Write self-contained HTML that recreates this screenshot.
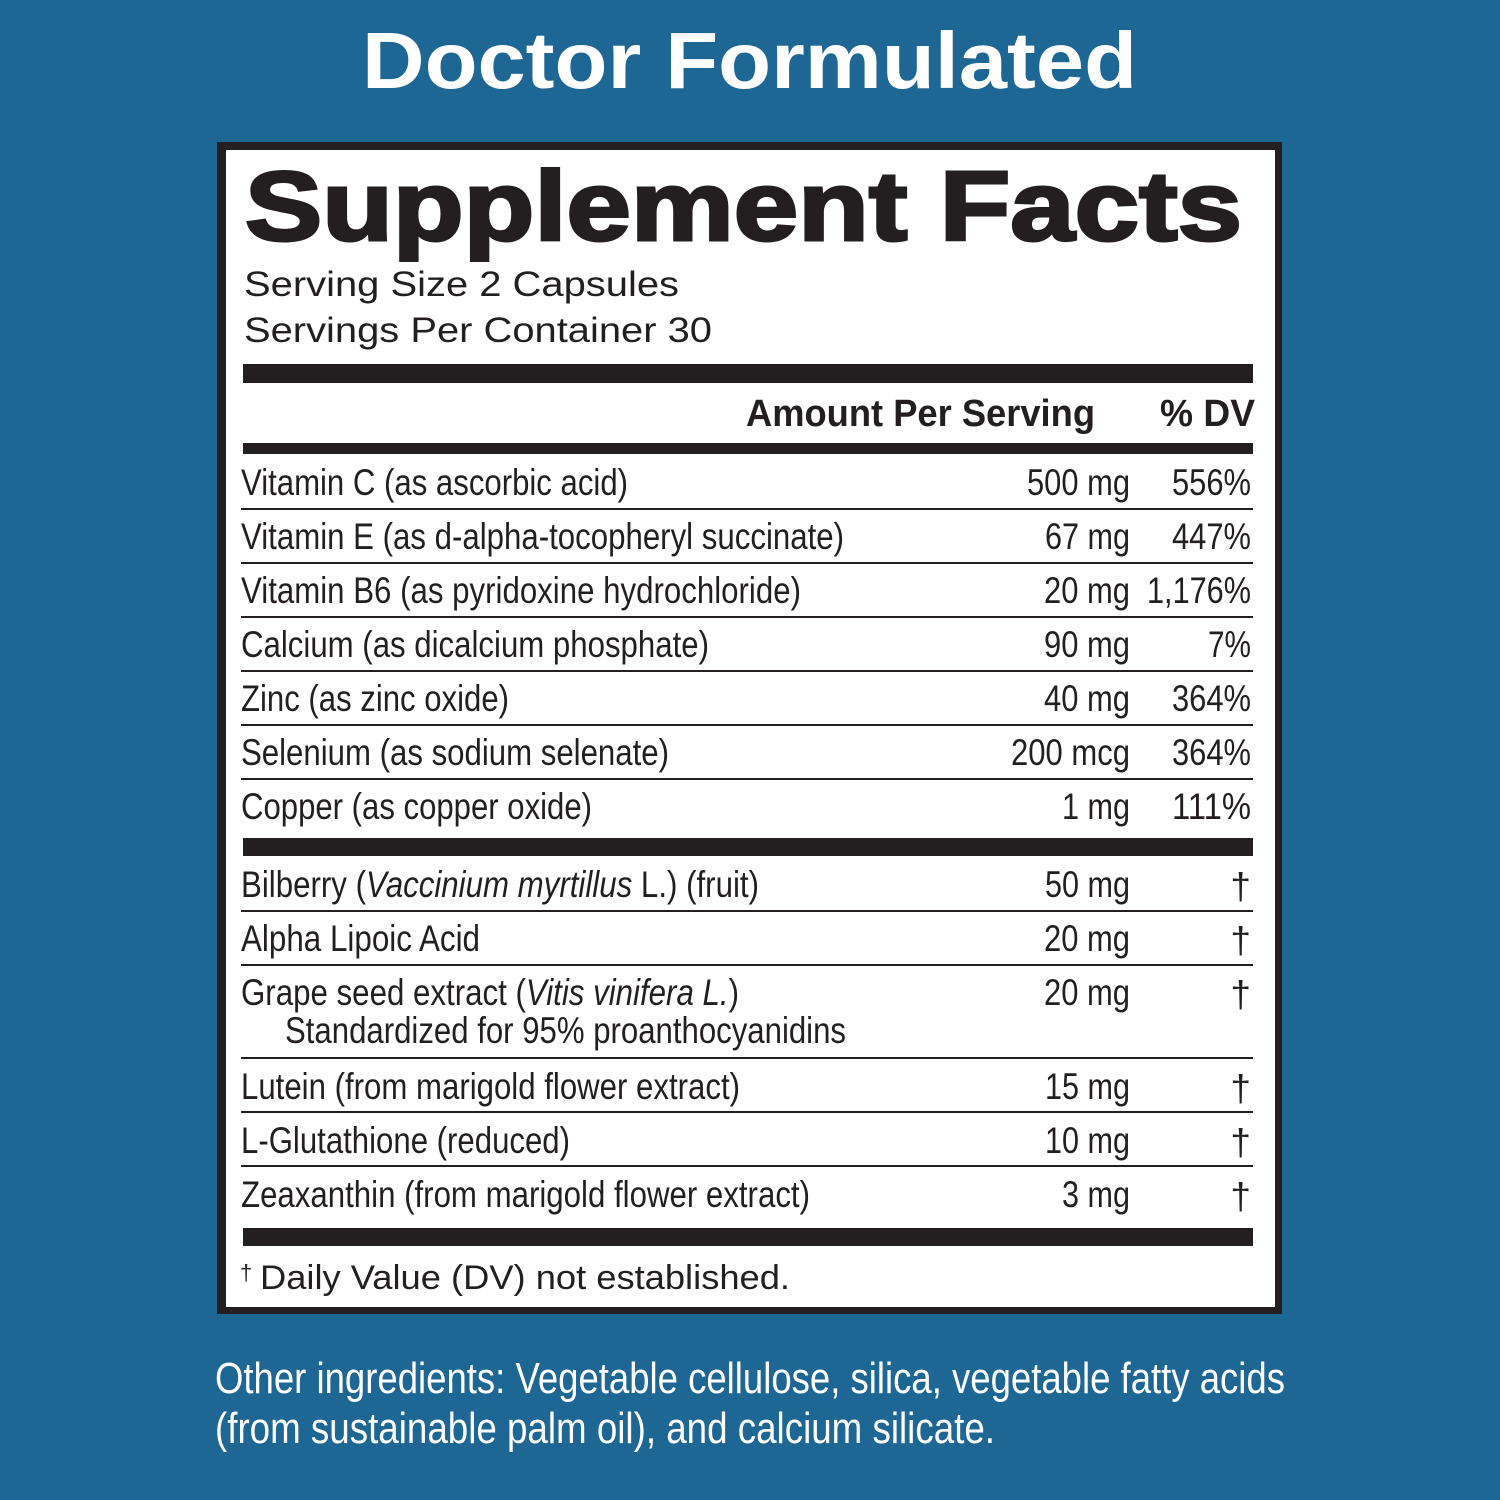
<!DOCTYPE html>
<html><head><meta charset="utf-8"><style>html,body{margin:0;padding:0;background:#1e6794}svg{display:block}</style></head>
<body>
<svg width="1500" height="1500" viewBox="0 0 1500 1500" xmlns="http://www.w3.org/2000/svg" font-family="'Liberation Sans', sans-serif">
<rect width="1500" height="1500" fill="#1e6794"/>
<text x="362" y="88" font-size="80" font-weight="bold" fill="#fff" textLength="775" lengthAdjust="spacingAndGlyphs">Doctor Formulated</text>
<rect x="217" y="142" width="1065" height="1172" fill="#231f20"/>
<rect x="226" y="150" width="1049" height="1157" fill="#fff"/>
<g fill="#231f20">
<text x="245" y="240" font-size="98" font-weight="bold" stroke="#231f20" stroke-width="3" textLength="997" lengthAdjust="spacingAndGlyphs">Supplement Facts</text>
<text x="244" y="296" font-size="35" textLength="435" lengthAdjust="spacingAndGlyphs">Serving Size 2 Capsules</text>
<text x="244" y="342" font-size="35" textLength="468" lengthAdjust="spacingAndGlyphs">Servings Per Container 30</text>
<rect x="243" y="364" width="1010" height="19"/>
<text x="746" y="426" font-size="38" font-weight="bold" textLength="349" lengthAdjust="spacingAndGlyphs">Amount Per Serving</text>
<text x="1160" y="426" font-size="38" font-weight="bold" textLength="95" lengthAdjust="spacingAndGlyphs">% DV</text>
<rect x="243" y="443" width="1010" height="11"/>
<rect x="243" y="838" width="1010" height="18"/>
<rect x="243" y="1228" width="1010" height="18"/>
<g>
<rect x="241" y="508" width="1012" height="2"/><rect x="241" y="562" width="1012" height="2"/><rect x="241" y="616" width="1012" height="2"/><rect x="241" y="670" width="1012" height="2"/><rect x="241" y="724" width="1012" height="2"/><rect x="241" y="778" width="1012" height="2"/>
<rect x="241" y="910" width="1012" height="2"/><rect x="241" y="964" width="1012" height="2"/><rect x="241" y="1057" width="1012" height="2"/><rect x="241" y="1111" width="1012" height="2"/><rect x="241" y="1165" width="1012" height="2"/>
</g>
<g font-size="37" lengthAdjust="spacingAndGlyphs">
<text x="241" y="495" textLength="387" lengthAdjust="spacingAndGlyphs">Vitamin C (as ascorbic acid)</text>
<text x="241" y="549" textLength="603" lengthAdjust="spacingAndGlyphs">Vitamin E (as d-alpha-tocopheryl succinate)</text>
<text x="241" y="603" textLength="560" lengthAdjust="spacingAndGlyphs">Vitamin B6 (as pyridoxine hydrochloride)</text>
<text x="241" y="657" textLength="468" lengthAdjust="spacingAndGlyphs">Calcium (as dicalcium phosphate)</text>
<text x="241" y="711" textLength="268" lengthAdjust="spacingAndGlyphs">Zinc (as zinc oxide)</text>
<text x="241" y="765" textLength="428" lengthAdjust="spacingAndGlyphs">Selenium (as sodium selenate)</text>
<text x="241" y="819" textLength="351" lengthAdjust="spacingAndGlyphs">Copper (as copper oxide)</text>
<text x="241" y="897" textLength="518" lengthAdjust="spacingAndGlyphs">Bilberry (<tspan font-style="italic">Vaccinium myrtillus</tspan> L.) (fruit)</text>
<text x="241" y="951" textLength="239" lengthAdjust="spacingAndGlyphs">Alpha Lipoic Acid</text>
<text x="241" y="1005" textLength="498" lengthAdjust="spacingAndGlyphs">Grape seed extract (<tspan font-style="italic">Vitis vinifera L.</tspan>)</text>
<text x="285" y="1043" textLength="561" lengthAdjust="spacingAndGlyphs">Standardized for 95% proanthocyanidins</text>
<text x="241" y="1099" textLength="499" lengthAdjust="spacingAndGlyphs">Lutein (from marigold flower extract)</text>
<text x="241" y="1153" textLength="329" lengthAdjust="spacingAndGlyphs">L-Glutathione (reduced)</text>
<text x="241" y="1207" textLength="569" lengthAdjust="spacingAndGlyphs">Zeaxanthin (from marigold flower extract)</text>
</g>
<g font-size="37" text-anchor="end">
<text x="1130" y="495" textLength="103" lengthAdjust="spacingAndGlyphs">500 mg</text>
<text x="1130" y="549" textLength="85" lengthAdjust="spacingAndGlyphs">67 mg</text>
<text x="1130" y="603" textLength="86" lengthAdjust="spacingAndGlyphs">20 mg</text>
<text x="1130" y="657" textLength="86" lengthAdjust="spacingAndGlyphs">90 mg</text>
<text x="1130" y="711" textLength="86" lengthAdjust="spacingAndGlyphs">40 mg</text>
<text x="1130" y="765" textLength="119" lengthAdjust="spacingAndGlyphs">200 mcg</text>
<text x="1130" y="819" textLength="68" lengthAdjust="spacingAndGlyphs">1 mg</text>
<text x="1130" y="897" textLength="85" lengthAdjust="spacingAndGlyphs">50 mg</text>
<text x="1130" y="951" textLength="86" lengthAdjust="spacingAndGlyphs">20 mg</text>
<text x="1130" y="1005" textLength="86" lengthAdjust="spacingAndGlyphs">20 mg</text>
<text x="1130" y="1099" textLength="85" lengthAdjust="spacingAndGlyphs">15 mg</text>
<text x="1130" y="1153" textLength="85" lengthAdjust="spacingAndGlyphs">10 mg</text>
<text x="1130" y="1207" textLength="68" lengthAdjust="spacingAndGlyphs">3 mg</text>
<text x="1251" y="495" textLength="79" lengthAdjust="spacingAndGlyphs">556%</text>
<text x="1251" y="549" textLength="79" lengthAdjust="spacingAndGlyphs">447%</text>
<text x="1251" y="603" textLength="104" lengthAdjust="spacingAndGlyphs">1,176%</text>
<text x="1251" y="657" textLength="43" lengthAdjust="spacingAndGlyphs">7%</text>
<text x="1251" y="711" textLength="79" lengthAdjust="spacingAndGlyphs">364%</text>
<text x="1251" y="765" textLength="79" lengthAdjust="spacingAndGlyphs">364%</text>
<text x="1251" y="819" textLength="79" lengthAdjust="spacingAndGlyphs">111%</text>
<text x="1251" y="899">†</text>
<text x="1251" y="953">†</text>
<text x="1251" y="1007">†</text>
<text x="1251" y="1101">†</text>
<text x="1251" y="1155">†</text>
<text x="1251" y="1209">†</text>
</g>
<text x="240" y="1280" font-size="22">†</text>
<text x="260" y="1289" font-size="34" textLength="530" lengthAdjust="spacingAndGlyphs">Daily Value (DV) not established.</text>
</g>
<g fill="#fff" font-size="44">
<text x="215" y="1393" textLength="1070" lengthAdjust="spacingAndGlyphs">Other ingredients: Vegetable cellulose, silica, vegetable fatty acids</text>
<text x="215" y="1443" textLength="780" lengthAdjust="spacingAndGlyphs">(from sustainable palm oil), and calcium silicate.</text>
</g>
</svg>
</body></html>
